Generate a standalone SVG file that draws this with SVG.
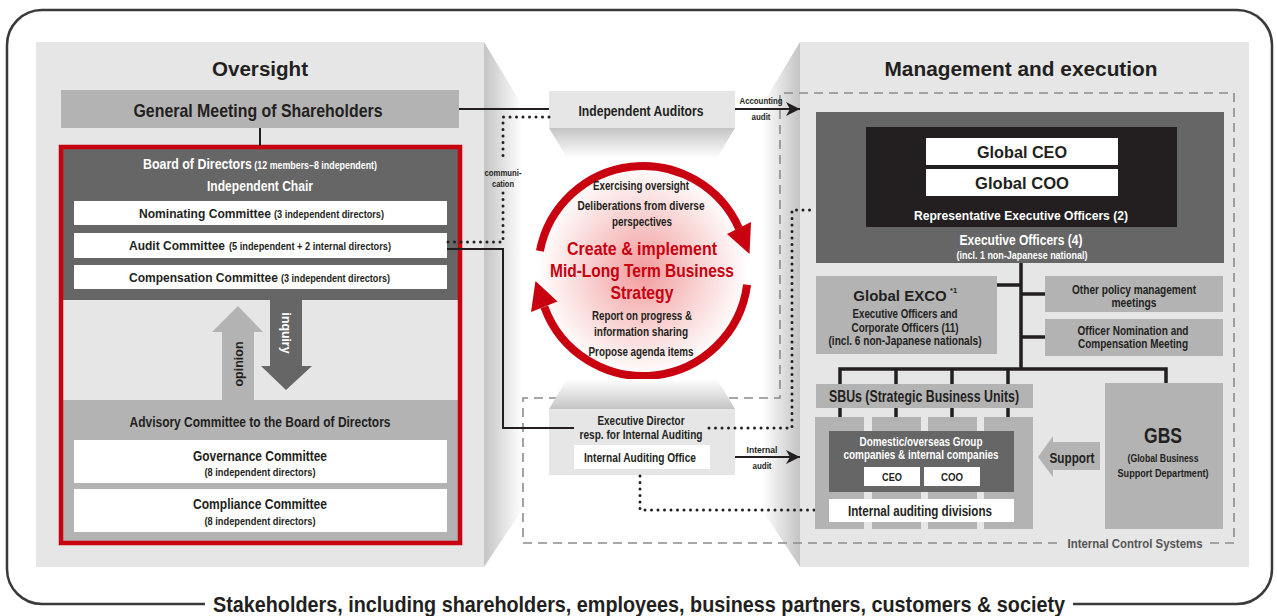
<svg xmlns="http://www.w3.org/2000/svg" width="1277" height="616" viewBox="0 0 1277 616">
<defs>
<style>
text{font-family:"Liberation Sans",Arial,sans-serif;font-weight:bold;fill:#231f20;text-anchor:middle}
.w{fill:#fff}
.r{fill:#c8000f}
.g{fill:#555}
.s{text-anchor:start}
.lt{fill:#e6e6e6}
.md{fill:#b3b3b3}
.dk{fill:#666}
.bx{fill:#fff}
.ln{fill:none;stroke:#231f20;stroke-width:2}
.dot{fill:none;stroke:#231f20;stroke-width:3;stroke-linecap:round;stroke-dasharray:0 6.5}
.tree{fill:none;stroke:#231f20;stroke-width:3.5}
.dash{fill:none;stroke:#8c8c8c;stroke-width:1.6;stroke-dasharray:9 6}
</style>
<linearGradient id="lf" x1="484" y1="0" x2="522" y2="0" gradientUnits="userSpaceOnUse"><stop offset="0" stop-color="#c4c4c4"/><stop offset="1" stop-color="#fff"/></linearGradient>
<linearGradient id="rf" x1="800" y1="0" x2="762" y2="0" gradientUnits="userSpaceOnUse"><stop offset="0" stop-color="#c4c4c4"/><stop offset="1" stop-color="#fff"/></linearGradient>
<linearGradient id="iaf" x1="0" y1="128" x2="0" y2="158" gradientUnits="userSpaceOnUse"><stop offset="0" stop-color="#c4c4c4"/><stop offset="1" stop-color="#fff"/></linearGradient>
<linearGradient id="edf" x1="0" y1="409" x2="0" y2="379" gradientUnits="userSpaceOnUse"><stop offset="0" stop-color="#c4c4c4"/><stop offset="1" stop-color="#fff"/></linearGradient>
<radialGradient id="cg" cx="643" cy="271" r="106" gradientUnits="userSpaceOnUse"><stop offset="0" stop-color="#f29b9b"/><stop offset="0.55" stop-color="#f9d3d3"/><stop offset="1" stop-color="#fff"/></radialGradient>
<marker id="ah" markerUnits="userSpaceOnUse" markerWidth="16" markerHeight="14" refX="14" refY="7" orient="auto"><path d="M0,0 L14,7 L0,14 L4,7 z" fill="#231f20"/></marker>
</defs>

<rect width="1277" height="616" fill="#fff"/>

<g id="frame">
<path d="M205,604 H42 A35,35 0 0 1 7,569 V45 A35,35 0 0 1 42,10 H1237 A35,35 0 0 1 1272,45 V569 A35,35 0 0 1 1237,604 H1073" fill="none" stroke="#3a3a3a" stroke-width="2.5"/>
<text x="639" y="612" font-size="22" textLength="852" lengthAdjust="spacingAndGlyphs">Stakeholders, including shareholders, employees, business partners, customers &amp; society</text>
</g>

<g id="oversight-panel">
<rect x="36" y="42" width="448" height="525" class="lt"/>
<polygon points="484,42 522,105 522,510 484,567" fill="url(#lf)"/>
<text x="260" y="76" font-size="20" textLength="96" lengthAdjust="spacingAndGlyphs">Oversight</text>
</g>

<g id="management-panel">
<rect x="800" y="42" width="449" height="525" class="lt"/>
<polygon points="800,42 762,105 762,510 800,567" fill="url(#rf)"/>
<text x="1021" y="76" font-size="20" textLength="273" lengthAdjust="spacingAndGlyphs">Management and execution</text>
</g>

<g id="internal-control-systems">
<path class="dash" d="M1210,543 H1234 V93 H780 V398 H523 V543 H1062"/>
<text x="1135" y="548" font-size="13" class="g" textLength="135" lengthAdjust="spacingAndGlyphs">Internal Control Systems</text>
</g>

<g id="general-meeting">
<rect x="61" y="90" width="398" height="38" class="md"/>
<text x="258" y="117" font-size="19" textLength="249" lengthAdjust="spacingAndGlyphs">General Meeting of Shareholders</text>
</g>

<g id="independent-auditors">
<polygon points="549,128 735,128 717,158 567,158" fill="url(#iaf)"/>
<rect x="549" y="91" width="186" height="37" class="lt"/>
<text x="641" y="116" font-size="14" textLength="125" lengthAdjust="spacingAndGlyphs">Independent Auditors</text>
</g>

<g id="board">
<rect x="63" y="149" width="395" height="151" class="dk"/>
<rect x="63" y="300" width="395" height="100" class="lt"/>
<rect x="63" y="400" width="395" height="142" class="md"/>
<rect x="61" y="147" width="399" height="396" fill="none" stroke="#c8000f" stroke-width="4.5"/>
<text x="260" y="169" class="w" textLength="234" lengthAdjust="spacingAndGlyphs"><tspan font-size="14">Board of Directors</tspan><tspan font-size="10"> (12 members–8 independent)</tspan></text>
<text x="260" y="191" font-size="14" class="w" textLength="106" lengthAdjust="spacingAndGlyphs">Independent Chair</text>
</g>

<g id="nominating-committee">
<rect x="74" y="201" width="373" height="24" class="bx"/>
<text x="139" y="218" font-size="13" class="s" textLength="132" lengthAdjust="spacingAndGlyphs">Nominating Committee</text>
<text x="274" y="218" font-size="10" class="s" textLength="110" lengthAdjust="spacingAndGlyphs">(3 independent directors)</text>
</g>

<g id="audit-committee">
<rect x="74" y="233" width="373" height="25" class="bx"/>
<text x="129" y="250" font-size="13" class="s" textLength="96" lengthAdjust="spacingAndGlyphs">Audit Committee</text>
<text x="229" y="250" font-size="10" class="s" textLength="162" lengthAdjust="spacingAndGlyphs">(5 independent + 2 internal directors)</text>
</g>

<g id="compensation-committee">
<rect x="74" y="265" width="373" height="24" class="bx"/>
<text x="129" y="282" font-size="13" class="s" textLength="149" lengthAdjust="spacingAndGlyphs">Compensation Committee</text>
<text x="281" y="282" font-size="10" class="s" textLength="109" lengthAdjust="spacingAndGlyphs">(3 independent directors)</text>
</g>

<g id="opinion-arrow">
<polygon points="238,306 263,332 254,332 254,400 222,400 222,332 212,332" class="md"/>
<text transform="translate(242.5,364) rotate(-90)" font-size="13" textLength="45" lengthAdjust="spacingAndGlyphs">opinion</text>
</g>

<g id="inquiry-arrow">
<polygon points="270,300 302,300 302,366 312,366 286,390 261,366 270,366" class="dk"/>
<text transform="translate(281.5,333) rotate(90)" font-size="13" class="w" textLength="41" lengthAdjust="spacingAndGlyphs">inquiry</text>
</g>

<g id="advisory-committee">
<text x="260" y="427" font-size="14" textLength="261" lengthAdjust="spacingAndGlyphs">Advisory Committee to the Board of Directors</text>
</g>

<g id="governance-committee">
<rect x="74" y="440" width="373" height="43" class="bx"/>
<text x="260" y="461" font-size="14" textLength="134" lengthAdjust="spacingAndGlyphs">Governance Committee</text>
<text x="260" y="476" font-size="11" textLength="111" lengthAdjust="spacingAndGlyphs">(8 independent directors)</text>
</g>

<g id="compliance-committee">
<rect x="74" y="489" width="373" height="43" class="bx"/>
<text x="260" y="509" font-size="14" textLength="134" lengthAdjust="spacingAndGlyphs">Compliance Committee</text>
<text x="260" y="525" font-size="11" textLength="111" lengthAdjust="spacingAndGlyphs">(8 independent directors)</text>
</g>

<g id="strategy-cycle">
<circle cx="643" cy="271" r="105" fill="url(#cg)"/>
<path d="M539.9,251 A105,105 0 0 1 738.9,228.3" fill="none" stroke="#c8000f" stroke-width="8"/>
<polygon points="751,222 727,234 749.5,254" class="r"/>
<path d="M747.1,284.7 A105,105 0 0 1 544.3,306.9" fill="none" stroke="#c8000f" stroke-width="8"/>
<polygon points="531,312 557.5,301.5 535.5,281" class="r"/>
<text x="641" y="190" font-size="12.5" textLength="96" lengthAdjust="spacingAndGlyphs">Exercising oversight</text>
<text x="641" y="210" font-size="12.5" textLength="127" lengthAdjust="spacingAndGlyphs">Deliberations from diverse</text>
<text x="642" y="226" font-size="12.5" textLength="60" lengthAdjust="spacingAndGlyphs">perspectives</text>
<text x="642" y="255" font-size="19" class="r" textLength="150" lengthAdjust="spacingAndGlyphs">Create &amp; implement</text>
<text x="642" y="277" font-size="19" class="r" textLength="184" lengthAdjust="spacingAndGlyphs">Mid-Long Term Business</text>
<text x="642" y="299" font-size="19" class="r" textLength="63" lengthAdjust="spacingAndGlyphs">Strategy</text>
<text x="642" y="320" font-size="12.5" textLength="100" lengthAdjust="spacingAndGlyphs">Report on progress &amp;</text>
<text x="641" y="336" font-size="12.5" textLength="94" lengthAdjust="spacingAndGlyphs">information sharing</text>
<text x="641" y="356" font-size="12.5" textLength="105" lengthAdjust="spacingAndGlyphs">Propose agenda items</text>
</g>

<g id="executive-director">
<polygon points="549,409 735,409 717,379 567,379" fill="url(#edf)"/>
<rect x="549" y="409" width="186" height="66" class="lt"/>
<text x="641" y="425" font-size="12" textLength="87" lengthAdjust="spacingAndGlyphs">Executive Director</text>
<text x="641" y="439" font-size="12" textLength="123" lengthAdjust="spacingAndGlyphs">resp. for Internal Auditing</text>
<rect x="574" y="445" width="136" height="24" class="bx"/>
<text x="640" y="462" font-size="12.5" textLength="112" lengthAdjust="spacingAndGlyphs">Internal Auditing Office</text>
</g>

<g id="connectors">
<path class="ln" d="M459,109 H549"/>
<path class="ln" stroke-width="3" d="M260,128 V146"/>
<path class="dot" d="M549,117 H503 V160"/>
<path class="dot" d="M503,193 V242 H447"/>
<text x="503" y="176" font-size="9" textLength="37" lengthAdjust="spacingAndGlyphs">communi-</text>
<text x="503" y="187" font-size="9" textLength="22" lengthAdjust="spacingAndGlyphs">cation</text>
<path class="ln" d="M447,249 H503 V428 H574"/>
<path class="ln" d="M735,109 H800" marker-end="url(#ah)"/>
<text x="761" y="104" font-size="9.5" textLength="43" lengthAdjust="spacingAndGlyphs">Accounting</text>
<text x="761" y="120" font-size="9.5" textLength="19" lengthAdjust="spacingAndGlyphs">audit</text>
<path class="ln" d="M735,457 H800" marker-end="url(#ah)"/>
<text x="762" y="453" font-size="9.5" textLength="31" lengthAdjust="spacingAndGlyphs">Internal</text>
<text x="762" y="469" font-size="9.5" textLength="19" lengthAdjust="spacingAndGlyphs">audit</text>
<path class="dot" d="M709,428 H792 V210 H816"/>
<path class="dot" d="M640,476 V510 H829"/>
<path class="tree" d="M1021,263 V369 M997,285 H1021 M1021,294 H1045 M1021,337 H1045 M838.25,369 H1167.75 M840,369 V417 M896,369 V417 M952,369 V417 M1008,369 V417 M1166,369 V383"/>
</g>

<g id="executive-officers">
<rect x="816" y="112" width="408" height="151" class="dk"/>
<rect x="866" y="127" width="311" height="100" fill="#231f20"/>
<text x="1021" y="245" font-size="14" class="w" textLength="123" lengthAdjust="spacingAndGlyphs">Executive Officers (4)</text>
<text x="1022" y="259" font-size="10.5" class="w" textLength="131" lengthAdjust="spacingAndGlyphs">(incl. 1 non-Japanese national)</text>
<text x="1021" y="220" font-size="13.5" class="w" textLength="214" lengthAdjust="spacingAndGlyphs">Representative Executive Officers (2)</text>
</g>

<g id="global-ceo">
<rect x="926" y="138" width="192" height="27" class="bx"/>
<text x="1022" y="158" font-size="16" textLength="90" lengthAdjust="spacingAndGlyphs">Global CEO</text>
</g>

<g id="global-coo">
<rect x="926" y="169" width="192" height="27" class="bx"/>
<text x="1022" y="189" font-size="16" textLength="94" lengthAdjust="spacingAndGlyphs">Global COO</text>
</g>

<g id="global-exco">
<rect x="816" y="276" width="181" height="78" class="md"/>
<text x="900" y="301" font-size="15">Global EXCO</text>
<text x="950" y="293" font-size="7.5" class="s">*1</text>
<text x="905" y="318" font-size="12" textLength="105" lengthAdjust="spacingAndGlyphs">Executive Officers and</text>
<text x="905" y="332" font-size="12" textLength="107" lengthAdjust="spacingAndGlyphs">Corporate Officers (11)</text>
<text x="905" y="345" font-size="12" textLength="153" lengthAdjust="spacingAndGlyphs">(incl. 6 non-Japanese nationals)</text>
</g>

<g id="other-policy-meetings">
<rect x="1045" y="276" width="178" height="36" class="md"/>
<text x="1134" y="294" font-size="12" textLength="124" lengthAdjust="spacingAndGlyphs">Other policy management</text>
<text x="1134" y="307" font-size="12" textLength="45" lengthAdjust="spacingAndGlyphs">meetings</text>
</g>

<g id="officer-nomination-meeting">
<rect x="1045" y="319" width="178" height="37" class="md"/>
<text x="1133" y="335" font-size="12" textLength="111" lengthAdjust="spacingAndGlyphs">Officer Nomination and</text>
<text x="1133" y="348" font-size="12" textLength="110" lengthAdjust="spacingAndGlyphs">Compensation Meeting</text>
</g>

<g id="sbus">
<rect x="816" y="384" width="217" height="24" class="md"/>
<text x="924" y="402" font-size="16" textLength="190" lengthAdjust="spacingAndGlyphs">SBUs (Strategic Business Units)</text>
<rect x="815" y="417" width="49" height="112" class="md"/>
<rect x="872" y="417" width="49" height="112" class="md"/>
<rect x="928" y="417" width="49" height="112" class="md"/>
<rect x="984" y="417" width="49" height="112" class="md"/>
</g>

<g id="group-companies">
<rect x="829" y="431" width="185" height="61" class="dk"/>
<text x="921" y="446" font-size="12" class="w" textLength="123" lengthAdjust="spacingAndGlyphs">Domestic/overseas Group</text>
<text x="921" y="459" font-size="12" class="w" textLength="155" lengthAdjust="spacingAndGlyphs">companies &amp; internal companies</text>
<rect x="864" y="467" width="56" height="19" class="bx"/>
<text x="892" y="481" font-size="10.5" textLength="20" lengthAdjust="spacingAndGlyphs">CEO</text>
<rect x="924" y="467" width="56" height="19" class="bx"/>
<text x="952" y="481" font-size="10.5" textLength="22" lengthAdjust="spacingAndGlyphs">COO</text>
</g>

<g id="internal-auditing-divisions">
<rect x="829" y="499" width="185" height="23" class="bx"/>
<text x="920" y="516" font-size="14" textLength="144" lengthAdjust="spacingAndGlyphs">Internal auditing divisions</text>
</g>

<g id="support-arrow">
<polygon points="1038,457 1053,436 1053,442 1100,442 1100,470 1053,470 1053,477" class="md"/>
<text x="1072" y="463" font-size="15" textLength="45" lengthAdjust="spacingAndGlyphs">Support</text>
</g>

<g id="gbs">
<rect x="1105" y="383" width="118" height="146" class="md"/>
<text x="1163" y="443" font-size="22" textLength="38" lengthAdjust="spacingAndGlyphs">GBS</text>
<text x="1163" y="462" font-size="11" textLength="71" lengthAdjust="spacingAndGlyphs">(Global Business</text>
<text x="1163" y="477" font-size="11" textLength="91" lengthAdjust="spacingAndGlyphs">Support Department)</text>
</g>
</svg>
